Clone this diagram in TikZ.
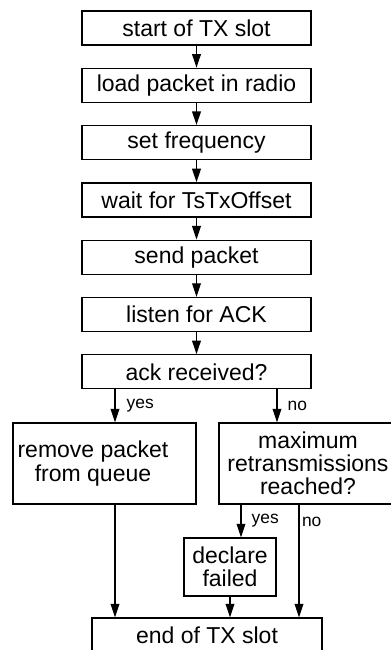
\documentclass[tikz,border=0pt]{standalone}
\usepackage{fontspec}
\setmainfont{Liberation Sans}
\usetikzlibrary{arrows.meta}
\newcommand{\boxfont}{\fontsize{11.5}{11.6}\selectfont}
\newcommand{\ansfont}{\fontsize{8.7}{9}\selectfont}
\tikzset{
  stepbox/.style={draw, line width=0.65pt, inner sep=0pt, align=center,
    minimum width=114.5pt, minimum height=17pt, font=\boxfont},
  arr/.style={-{Triangle[length=6.8pt,width=4.4pt]}, line width=0.65pt},
  ans/.style={font=\ansfont, anchor=west, inner sep=0pt},
}
\begin{document}
\begin{tikzpicture}[x=0.5pt,y=-0.5pt]
  \useasboundingbox (0,0) rectangle (391,650);
  % TX slot steps
  \node[stepbox] (start)  at (196.5,28)    {start of TX slot};
  \node[stepbox] (load)   at (196.5,85.3)  {load packet in radio};
  \node[stepbox] (freq)   at (196.5,142.6) {set frequency};
  \node[stepbox] (wait)   at (196.5,199.9) {wait for TsTxOffset};
  \node[stepbox] (send)   at (196.5,257.2) {send packet};
  \node[stepbox] (listen) at (196.5,314.5) {listen for ACK};
  \node[stepbox] (ack)    at (196.5,371.8) {ack received?};
  \foreach \a/\b in {start/load,load/freq,freq/wait,wait/send,send/listen,listen/ack}
    \draw[arr] (\a) -- (\b);
  % branches
  \node[stepbox, minimum width=91.5pt, minimum height=40.5pt,
    label={[font=\boxfont, align=center, xshift=-5.75pt]center:remove packet\\from queue}]
    (remove) at (104.5,463.5) {};
  \node[stepbox, minimum width=89pt, minimum height=40.5pt] (maxretx) at (308,463.5)
    {maximum\\retransmissions\\reached?};
  \node[stepbox, minimum width=46pt, minimum height=29pt] (declare) at (230,567)
    {declare\\failed};
  \node[stepbox, minimum width=115pt, minimum height=17pt] (end) at (207,635)
    {end of TX slot};
  \coordinate (yesx) at (115,0);
  \coordinate (nox) at (277,0);
  \coordinate (failx) at (241,0);
  \coordinate (skipx) at (299,0);
  \draw[arr] (ack.south -| yesx) -- (remove.north -| yesx)
    node[ans, midway, xshift=5.5pt] {yes};
  \draw[arr] (ack.south -| nox) -- (maxretx.north -| nox)
    node[ans, midway, xshift=5pt] {no};
  \draw[arr] (maxretx.south -| failx) -- (declare.north -| failx)
    node[ans, midway, xshift=5pt] {yes};
  \draw[arr] (maxretx.south -| skipx) -- (end.north -| skipx)
    node[ans, pos=0.15, xshift=1.2pt] {no};
  \draw[arr] (remove.south -| yesx) -- (end.north -| yesx);
  \draw[arr] (declare) -- (declare |- end.north);
\end{tikzpicture}
\end{document}
